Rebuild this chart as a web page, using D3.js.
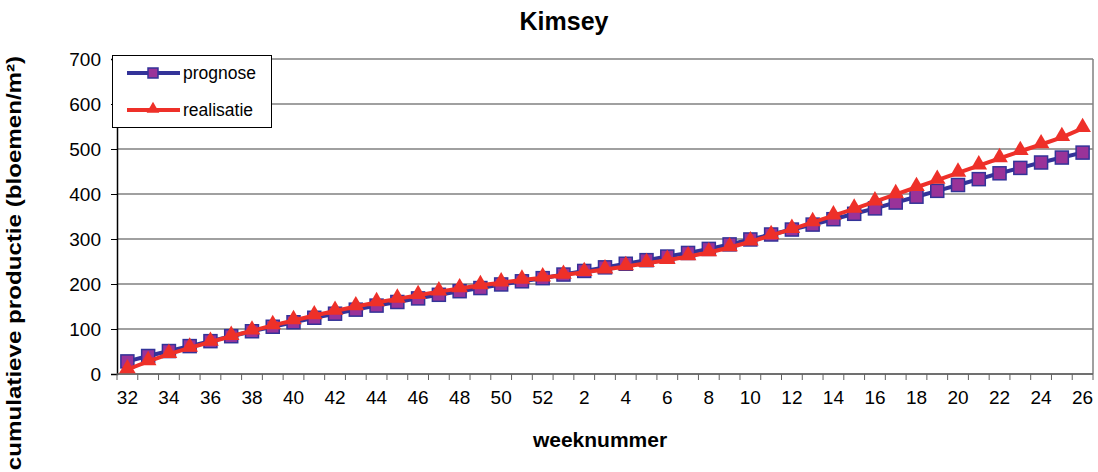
<!DOCTYPE html>
<meta charset="utf-8">
<style>
body {
  margin: 0;
  background: #fff;
  font-family: "Liberation Sans", Arial, sans-serif;
}
.grid line {
  stroke: #808080;
  stroke-width: 1.5px;
}
.title {
  font-size: 25px;
  font-weight: bold;
  text-anchor: middle;
}
.axis-label {
  font-size: 21px;
  font-weight: bold;
  text-anchor: middle;
}
.legend text {
  font-size: 17.5px;
}
</style>
<body>
<script src="https://cdn.jsdelivr.net/npm/d3@7"></script>
<script>
var weeks = [32, 33, 34, 35, 36, 37, 38, 39, 40, 41, 42, 43, 44, 45, 46, 47, 48, 49, 50, 51, 52,
  1, 2, 3, 4, 5, 6, 7, 8, 9, 10, 11, 12, 13, 14, 15, 16, 17, 18, 19, 20, 21, 22, 23, 24, 25, 26];

var prognose = [28, 40, 51, 62, 73, 84, 95, 105, 115, 125,
  134, 143, 152, 160, 168, 176, 184, 191, 199, 206,
  213, 221, 229, 237, 245, 253, 261, 269, 278, 288,
  299, 310, 321, 332, 344, 356, 368, 381, 394, 407,
  420, 433, 446, 458, 470, 481, 492];

var realisatie = [10, 28, 44, 58, 71, 84, 96, 108, 119, 130,
  140, 150, 159, 167, 175, 183, 190, 197, 203, 209,
  214, 220, 226, 232, 239, 246, 253, 261, 270, 281,
  294, 308, 322, 337, 352, 367, 383, 399, 415, 431,
  447, 463, 479, 495, 510, 526, 546];

var yTicks = [0, 100, 200, 300, 400, 500, 600, 700];
var seriesNames = ["prognose", "realisatie"];

var width = 1098, height = 472;
var mLeft = 117, mRight = 1093, mTop = 59, mBottom = 374;

var svg = d3.select("body").append("svg")
    .attr("width", width)
    .attr("height", height);

var x = d3.scaleBand()
    .domain(d3.range(weeks.length))
    .range([mLeft, mRight]);

var y = d3.scaleLinear()
    .domain([0, 700])
    .range([mBottom, mTop]);

// gridlines
svg.append("g")
    .attr("class", "grid")
    .selectAll("line")
    .data(yTicks)
    .enter().append("line")
    .attr("x1", mLeft)
    .attr("x2", mRight)
    .attr("y1", function(d) { return y(d); })
    .attr("y2", function(d) { return y(d); });

// plot border right
svg.append("line")
    .attr("x1", mRight).attr("x2", mRight)
    .attr("y1", mTop).attr("y2", mBottom)
    .attr("stroke", "#808080")
    .attr("stroke-width", 1.5);

// y axis
var yAxis = svg.append("g")
    .attr("transform", "translate(" + mLeft + ",0)")
    .call(d3.axisLeft(y).tickValues(yTicks).tickSize(6).tickPadding(10));
yAxis.select(".domain").attr("stroke", "#000").attr("stroke-width", 1.5);
yAxis.selectAll(".tick line").attr("stroke", "#000");
yAxis.selectAll(".tick text")
    .attr("font-family", "Liberation Sans, Arial, sans-serif")
    .attr("font-size", 19)
    .attr("fill", "#000");

// x axis: ticks on category boundaries, labels every other week
var xb = svg.append("g")
    .attr("transform", "translate(0," + mBottom + ")");
xb.append("line")
    .attr("x1", mLeft).attr("x2", mRight)
    .attr("stroke", "#606060")
    .attr("stroke-width", 1.5);
xb.selectAll(".tk")
    .data(d3.range(weeks.length + 1))
    .enter().append("line")
    .attr("class", "tk")
    .attr("x1", function(i) { return mLeft + i * x.step(); })
    .attr("x2", function(i) { return mLeft + i * x.step(); })
    .attr("y1", 0)
    .attr("y2", 6)
    .attr("stroke", "#606060");
xb.selectAll("text")
    .data(weeks.filter(function(d, i) { return i % 2 === 0; }))
    .enter().append("text")
    .attr("x", function(d) { return x(weeks.indexOf(d)) + x.bandwidth() / 2; })
    .attr("y", 30)
    .attr("text-anchor", "middle")
    .attr("font-size", 19)
    .text(function(d) { return d; });

var cx = function(d, i) { return x(i) + x.bandwidth() / 2; };

var line = d3.line()
    .x(cx)
    .y(function(d) { return y(d); });

// prognose
svg.append("path")
    .datum(prognose)
    .attr("fill", "none")
    .attr("stroke", "#333399")
    .attr("stroke-width", 4)
    .attr("d", line);
svg.selectAll(".sq")
    .data(prognose)
    .enter().append("rect")
    .attr("class", "sq")
    .attr("x", function(d, i) { return cx(d, i) - 6.5; })
    .attr("y", function(d) { return y(d) - 6.5; })
    .attr("width", 13)
    .attr("height", 13)
    .attr("fill", "#993399")
    .attr("stroke", "#333399")
    .attr("stroke-width", 1.5);

// realisatie
svg.append("path")
    .datum(realisatie)
    .attr("fill", "none")
    .attr("stroke", "#ee3029")
    .attr("stroke-width", 4)
    .attr("d", line);
var tri = d3.symbol().type(d3.symbolTriangle).size(120);
svg.selectAll(".tri")
    .data(realisatie)
    .enter().append("path")
    .attr("class", "tri")
    .attr("transform", function(d, i) { return "translate(" + cx(d, i) + "," + (y(d) - 1) + ")"; })
    .attr("d", tri)
    .attr("fill", "#ee3029");

// legend
var lg = svg.append("g").attr("class", "legend");
lg.append("rect")
    .attr("x", 112.5).attr("y", 55.5)
    .attr("width", 159).attr("height", 72)
    .attr("fill", "#fff")
    .attr("stroke", "#000");
var ly = [73, 110];
lg.append("line").attr("x1", 127).attr("x2", 180).attr("y1", ly[0]).attr("y2", ly[0])
    .attr("stroke", "#333399").attr("stroke-width", 4);
lg.append("rect").attr("x", 148).attr("y", ly[0] - 5).attr("width", 10).attr("height", 10)
    .attr("fill", "#993399").attr("stroke", "#333399").attr("stroke-width", 1.5);
lg.append("line").attr("x1", 127).attr("x2", 180).attr("y1", ly[1]).attr("y2", ly[1])
    .attr("stroke", "#ee3029").attr("stroke-width", 4);
lg.append("path").attr("transform", "translate(153," + (ly[1] - 1) + ")")
    .attr("d", d3.symbol().type(d3.symbolTriangle).size(70))
    .attr("fill", "#ee3029");
lg.selectAll("text")
    .data(seriesNames)
    .enter().append("text")
    .attr("x", 183)
    .attr("y", function(d, i) { return ly[i] + 6; })
    .text(function(d) { return d; });

// titles
svg.append("text")
    .attr("class", "title")
    .attr("x", 564).attr("y", 30)
    .text("Kimsey");
svg.append("text")
    .attr("class", "axis-label")
    .attr("x", 600).attr("y", 447)
    .text("weeknummer");
svg.append("text")
    .attr("class", "axis-label")
    .attr("font-size", 24)
    .attr("transform", "translate(21,263) rotate(-90) scale(1.15,1)")
    .text("cumulatieve productie (bloemen/m²)");
</script>
</body>
